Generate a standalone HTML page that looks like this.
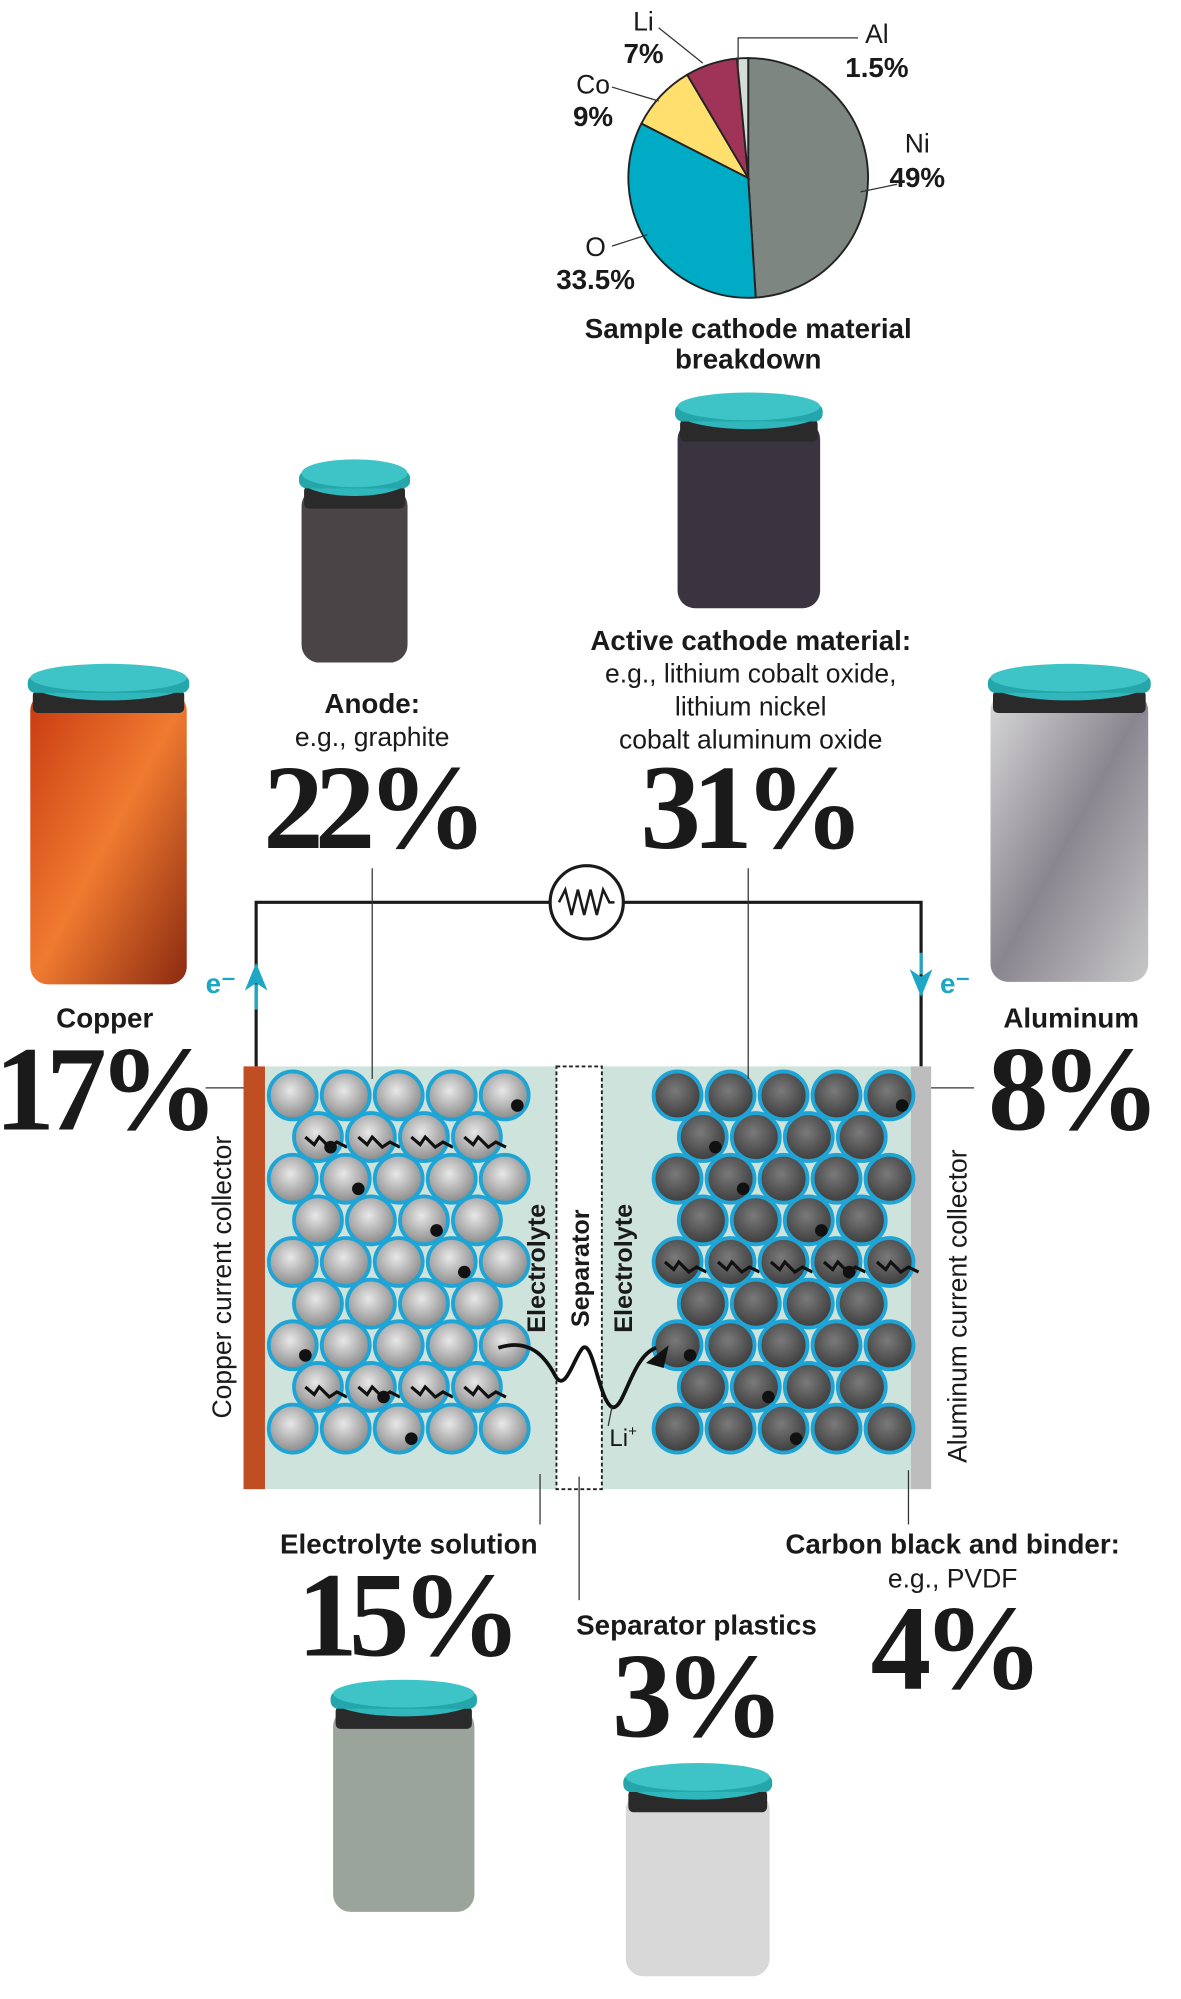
<!DOCTYPE html>
<html><head><meta charset="utf-8"><style>
html,body{margin:0;padding:0;background:#fff;}
svg{display:block;}
text{font-family:"Liberation Sans",sans-serif;fill:#1a1a1a;}
.big{font-family:"Liberation Serif",serif;font-weight:bold;font-size:96px;letter-spacing:-7px;}
.b{font-weight:bold;font-size:22px;}
.r{font-size:21px;}
</style></head><body>
<svg id="s" width="1181" height="1999" viewBox="0 0 936 1584" preserveAspectRatio="none" xmlns="http://www.w3.org/2000/svg">
<defs>
<radialGradient id="ga" cx="0.45" cy="0.4" r="0.6"><stop offset="0" stop-color="#e8e8e8"/><stop offset="1" stop-color="#8a8a8a"/></radialGradient>
<radialGradient id="gc" cx="0.45" cy="0.4" r="0.6"><stop offset="0" stop-color="#7a7a7a"/><stop offset="1" stop-color="#3c3c3c"/></radialGradient>
<linearGradient id="cu" x1="0" y1="0" x2="1" y2="1"><stop offset="0" stop-color="#c83a10"/><stop offset="0.5" stop-color="#f07a30"/><stop offset="1" stop-color="#8a2a10"/></linearGradient>
<linearGradient id="al" x1="0" y1="0" x2="1" y2="1"><stop offset="0" stop-color="#d8d8d8"/><stop offset="0.5" stop-color="#8a8690"/><stop offset="1" stop-color="#c8c8c8"/></linearGradient>
</defs>
<g id="pie"></g>
<g>
<text x="510" y="24" class="r" text-anchor="middle">Li</text><text x="510" y="50" class="b" text-anchor="middle">7%</text>
<line x1="522" y1="22" x2="557" y2="50" stroke="#333" stroke-width="1"/>
<text x="470" y="74" class="r" text-anchor="middle">Co</text><text x="470" y="100" class="b" text-anchor="middle">9%</text>
<line x1="485" y1="69" x2="522" y2="80" stroke="#333" stroke-width="1"/>
<text x="472" y="203" class="r" text-anchor="middle">O</text><text x="472" y="229" class="b" text-anchor="middle">33.5%</text>
<line x1="485" y1="195" x2="513" y2="186" stroke="#333" stroke-width="1"/>
<text x="695" y="34" class="r" text-anchor="middle">Al</text><text x="695" y="61" class="b" text-anchor="middle">1.5%</text>
<polyline points="585,57 585,30 680,30" fill="none" stroke="#333" stroke-width="1"/>
<text x="727" y="121" class="r" text-anchor="middle">Ni</text><text x="727" y="148" class="b" text-anchor="middle">49%</text>
<line x1="682" y1="152" x2="711" y2="146" stroke="#333" stroke-width="1"/>
<text x="593" y="268" class="b" text-anchor="middle">Sample cathode material</text>
<text x="593" y="292" class="b" text-anchor="middle">breakdown</text>
</g>
<g id="jars"></g>
<g stroke="#1a1a1a" stroke-width="2.5" fill="none">
<polyline points="203,845 203,715 436,715"/><polyline points="494,715 730,715 730,845"/>
<circle cx="465" cy="715" r="29" fill="#fff"/>
<polyline points="443,715 448,705 453,725 458,705 463,725 468,705 473,725 478,705 483,715 487,715" stroke-width="2"/>
</g>
<path d="M203,763 l-9,22 l9,-6 l9,6 z" fill="#1ca7c4"/>
<line x1="203" y1="780" x2="203" y2="800" stroke="#1ca7c4" stroke-width="2.5"/>
<path d="M730,790 l-9,-22 l9,6 l9,-6 z" fill="#1ca7c4"/>
<line x1="730" y1="755" x2="730" y2="772" stroke="#1ca7c4" stroke-width="2.5"/>
<text x="163" y="787" class="b" style="fill:#1ca7c4">e⁻</text>
<text x="745" y="787" class="b" style="fill:#1ca7c4">e⁻</text>
<g>
<rect x="210" y="845" width="512" height="335" fill="#cfe3dd"/>
<rect x="193" y="845" width="17" height="335" fill="#c04e22"/>
<rect x="722" y="845" width="16" height="335" fill="#bdbdbd"/>
<rect x="441" y="845" width="36" height="335" fill="#fff" stroke="#222" stroke-width="1.5" stroke-dasharray="3,2"/>
<g id="parts"></g>
<path d="M395,1068 C420,1060 432,1075 440,1090 C448,1105 455,1075 462,1068 C470,1062 475,1110 485,1115 C495,1118 500,1075 520,1068" fill="none" stroke="#111" stroke-width="3"/>
<path d="M512,1080 l18,-14 l-4,18 z" fill="#111"/>
<line x1="485" y1="1115" x2="482" y2="1130" stroke="#333" stroke-width="1"/>
<text x="483" y="1146" style="font-size:19px">Li<tspan dy="-8" font-size="12">+</tspan></text>
<text transform="translate(432,1005) rotate(-90)" text-anchor="middle" style="font-size:20px;font-weight:bold">Electrolyte</text>
<text transform="translate(467,1005) rotate(-90)" text-anchor="middle" style="font-size:20px;font-weight:bold">Separator</text>
<text transform="translate(501,1005) rotate(-90)" text-anchor="middle" style="font-size:20px;font-weight:bold">Electrolyte</text>
</g>
<text transform="translate(183,1012) rotate(-90)" text-anchor="middle" class="r">Copper current collector</text>
<text transform="translate(766,1035) rotate(-90)" text-anchor="middle" class="r">Aluminum current collector</text>
<g stroke="#333" stroke-width="1">
<line x1="295" y1="688" x2="295" y2="855"/><line x1="593" y1="688" x2="593" y2="855"/>
<line x1="163" y1="862" x2="193" y2="862"/><line x1="738" y1="862" x2="772" y2="862"/>
<line x1="428" y1="1168" x2="428" y2="1208"/><line x1="459" y1="1170" x2="459" y2="1268"/>
<line x1="720" y1="1165" x2="720" y2="1208"/>
</g>
<text x="295" y="565" class="b" text-anchor="middle">Anode:</text>
<text x="295" y="591" class="r" text-anchor="middle">e.g., graphite</text>
<text x="294" y="672" class="big" text-anchor="middle">22%</text>
<text x="595" y="515" class="b" text-anchor="middle">Active cathode material:</text>
<text x="595" y="541" class="r" text-anchor="middle">e.g., lithium cobalt oxide,</text>
<text x="595" y="567" class="r" text-anchor="middle">lithium nickel</text>
<text x="595" y="593" class="r" text-anchor="middle">cobalt aluminum oxide</text>
<text x="593" y="672" class="big" text-anchor="middle">31%</text>
<text x="83" y="814" class="b" text-anchor="middle">Copper</text>
<text x="81" y="895" class="big" text-anchor="middle">17%</text>
<text x="849" y="814" class="b" text-anchor="middle">Aluminum</text>
<text x="848" y="895" class="big" text-anchor="middle">8%</text>
<text x="324" y="1231" class="b" text-anchor="middle">Electrolyte solution</text>
<text x="321" y="1312" class="big" text-anchor="middle">15%</text>
<text x="552" y="1295" class="b" text-anchor="middle">Separator plastics</text>
<text x="550" y="1376" class="big" text-anchor="middle">3%</text>
<text x="755" y="1231" class="b" text-anchor="middle">Carbon black and binder:</text>
<text x="755" y="1258" class="r" text-anchor="middle">e.g., PVDF</text>
<text x="755" y="1338" class="big" text-anchor="middle">4%</text>
</svg>
<script>
const pieLabels=["Ni","O","Co","Li","Al"];
const pieValues=[49,33.5,9,7,1.5];
const pieColors=["#7d8680","#00abc6","#ffdf6e","#a03458","#d4dcd8"];
const NS="http://www.w3.org/2000/svg";
const pie=document.getElementById('pie');
const cx=593,cy=141,R=95;
let total=pieValues.reduce((a,b)=>a+b,0),acc=0;
pieValues.forEach((v,i)=>{
 const a0=acc/total*2*Math.PI;acc+=v;const a1=acc/total*2*Math.PI;
 const x0=cx+R*Math.sin(a0),y0=cy-R*Math.cos(a0),x1=cx+R*Math.sin(a1),y1=cy-R*Math.cos(a1);
 const p=document.createElementNS(NS,'path');
 p.setAttribute('d',`M${cx},${cy} L${x0},${y0} A${R},${R} 0 ${(a1-a0)>Math.PI?1:0} 1 ${x1},${y1} Z`);
 p.setAttribute('fill',pieColors[i]);p.setAttribute('stroke','#222');p.setAttribute('stroke-width','1.5');
 
 
 pie.appendChild(p);
});
const jarsG=document.getElementById('jars');
function jar(name,x,y,w,h,fill){
 const g=document.createElementNS(NS,'g');
 
 
 g.innerHTML=`<rect x="${x+2}" y="${y+22}" width="${w-4}" height="${h-22}" rx="14" fill="${fill}"/>
 <rect x="${x+4}" y="${y+20}" width="${w-8}" height="18" rx="4" fill="#2a2a2a"/>
 <ellipse cx="${x+w/2}" cy="${y+14}" rx="${w/2}" ry="14" fill="#2fb7bb"/>
 <rect x="${x}" y="${y+8}" width="${w}" height="14" rx="6" fill="#24a6aa"/>
 <ellipse cx="${x+w/2}" cy="${y+10}" rx="${w/2-2}" ry="11" fill="#3ec3c6"/>`;
 jarsG.appendChild(g);
}
jar('anode-jar',237,365,88,160,'#4a4446');
jar('cathode-jar',535,312,117,170,'#3a3440');
jar('copper-jar',22,527,128,253,'url(#cu)');
jar('aluminum-jar',783,527,129,251,'url(#al)');
jar('electrolyte-jar',262,1332,116,183,'#9aa49a');
jar('separator-jar',494,1398,118,168,'#d8d8d8');
const parts=document.getElementById('parts');
function field(x0,x1,grad,side){
 let r=0;
 for(let y=868;y<1165;y+=33,r++){
  for(let x=x0+(r%2?20:0);x<=x1;x+=42){
   const c=document.createElementNS(NS,'circle');
   c.setAttribute('cx',x);c.setAttribute('cy',y);c.setAttribute('r',19);
   c.setAttribute('fill',grad);c.setAttribute('stroke','#1fa4d6');c.setAttribute('stroke-width','3');
   
   
   parts.appendChild(c);
   if((r*3+x)%5===0){const d=document.createElementNS(NS,'circle');d.setAttribute('cx',x+10);d.setAttribute('cy',y+8);d.setAttribute('r',5);d.setAttribute('fill','#111');parts.appendChild(d);}
   if((r*7+x)%6===1){const s=document.createElementNS(NS,'path');s.setAttribute('d',`M${x-10},${y} l7,6 l4,-6 l8,8 l6,-4 l8,4`);s.setAttribute('fill','none');s.setAttribute('stroke','#111');s.setAttribute('stroke-width','2.5');parts.appendChild(s);}
  }
 }
}
field(232,412,'url(#ga)','anode');
field(537,705,'url(#gc)','cathode');
</script>
</body></html>
